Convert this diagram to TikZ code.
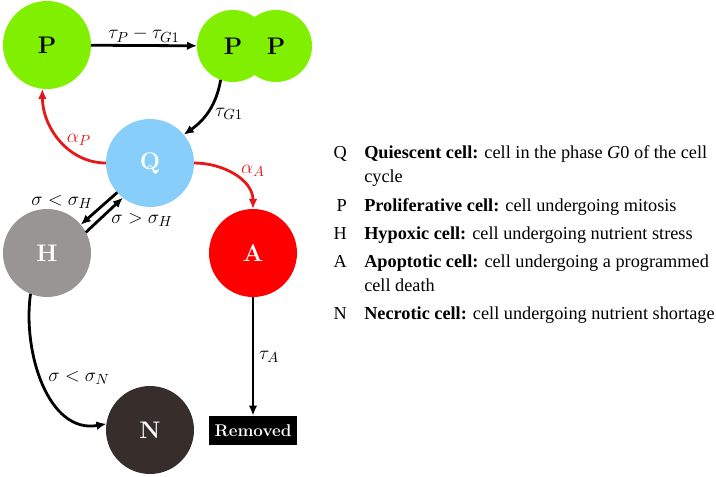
\documentclass[tikz,border=0pt]{standalone}
\usepackage{fontspec}
\usepackage{xcolor}
\usepackage{tikz}
\usetikzlibrary{arrows.meta}
\newfontfamily\legendfont{Liberation Serif}

\begin{document}
\begin{tikzpicture}[x=0.75pt,y=0.75pt,yscale=-1,xscale=1,
  cell/.style={circle,inner sep=0pt,outer sep=0pt,minimum size=66pt,font=\fontsize{18}{20}\selectfont\bfseries},
  flow/.style={-{Latex[length=7.5pt,width=6.5pt]},line width=2.1pt},
  rate/.style={inner sep=0.75pt,font=\fontsize{15.5}{18}\selectfont},
  legend/.style={inner sep=0pt,font=\legendfont\fontsize{13.7}{18}\selectfont}]
\useasboundingbox (0,0) rectangle (716,477);

%Shape: Circle
\node [cell,fill={rgb, 255:red, 128; green, 240; blue, 0 }] (P) at (47,45) {P};
%Shape: Circle
\node [cell,minimum size=54pt,fill={rgb, 255:red, 128; green, 240; blue, 0 }] (P2) at (276,46) {};
%Shape: Circle
\node [cell,minimum size=54pt,fill={rgb, 255:red, 128; green, 240; blue, 0 }] (P1) at (233,46) {};
\node [font=\fontsize{18}{20}\selectfont\bfseries] at (P1) {P};
\node [font=\fontsize{18}{20}\selectfont\bfseries] at (P2) {P};
%Shape: Circle
\node [cell,text=white,fill={rgb, 255:red, 135; green, 206; blue, 250 }] (Q) at (150,163) {Q};
%Shape: Circle
\node [cell,text=white,fill={rgb, 255:red, 154; green, 149; blue, 149 }] (H) at (47,253) {H};
%Shape: Circle
\node [cell,text=white,fill={rgb, 255:red, 255; green, 0; blue, 0 }] (A) at (253,253) {A};
%Shape: Circle
\node [cell,text=white,fill={rgb, 255:red, 55; green, 46; blue, 44 }] (N) at (150,430) {N};
%Shape: Rectangle
\node [fill=black,text=white,inner sep=0pt,minimum width=66pt,minimum height=22pt,font=\fontsize{12.75}{14}\selectfont\bfseries] (R) at (253,430.5) {Removed};

%Straight Lines
\draw [flow] (P) -- (P1) ;
%Curve Lines
\draw [flow] (P1.250) to [out=100,in=-35] (Q.40) ;
%Curve Lines
\draw [flow,color={rgb, 255:red, 230; green, 25; blue, 25 }] (Q.west) to [out=180,in=90] (P.264) ;
%Curve Lines
\draw [flow,color={rgb, 255:red, 230; green, 25; blue, 25 }] (Q.east) to [out=0,in=-90] (A.north) ;
%Straight Lines
\draw [flow] (Q.222) -- (H.40) ;
%Straight Lines
\draw [flow] (H.28) -- (Q.232) ;
%Curve Lines
\draw [flow] (H.248) to [out=98,in=170] (N.172) ;
%Straight Lines
\draw [flow] (A) -- (R) ;

% Text Node
\node [rate] (tPG) at (144,35) {$\tau_{P}-\tau_{G1}$};
% Text Node
\node [rate] (tG) at (229,114) {$\tau_{G1}$};
% Text Node
\node [rate,color={rgb, 255:red, 230; green, 25; blue, 25 }] (aP) at (79,140) {$\alpha_{P}$};
% Text Node
\node [rate,color={rgb, 255:red, 230; green, 25; blue, 25 }] (aA) at (253,171) {$\alpha_{A}$};
% Text Node
\node [rate] (sH1) at (62,202) {$\sigma<\sigma_{H}$};
% Text Node
\node [rate] (sH2) at (142,220) {$\sigma>\sigma_{H}$};
% Text Node
\node [rate] (sN) at (79,378) {$\sigma<\sigma_{N}$};
% Text Node
\node [rate] (tA) at (269,357) {$\tau_{A}$};

% Text Node
\node [legend,anchor=base east] (kQ) at (347,159) {Q};
\node [legend,anchor=base west,align=left] (dQ) at (364,183) {\textbf{Quiescent cell:} cell in the phase {\itshape G}0 of the cell\\cycle};
% Text Node
\node [legend,anchor=base east] (kP) at (347,211) {P};
\node [legend,anchor=base west,align=left] (dP) at (364,211) {\textbf{Proliferative cell:} cell undergoing mitosis};
% Text Node
\node [legend,anchor=base east] (kH) at (347,239) {H};
\node [legend,anchor=base west,align=left] (dH) at (364,239) {\textbf{Hypoxic cell:} cell undergoing nutrient stress};
% Text Node
\node [legend,anchor=base east] (kA) at (347,267) {A};
\node [legend,anchor=base west,align=left] (dA) at (364,291) {\textbf{Apoptotic cell:} cell undergoing a programmed\\cell death};
% Text Node
\node [legend,anchor=base east] (kN) at (347,319) {N};
\node [legend,anchor=base west,align=left] (dN) at (364,319) {\textbf{Necrotic cell:} cell undergoing nutrient shortage};
\end{tikzpicture}
\end{document}
